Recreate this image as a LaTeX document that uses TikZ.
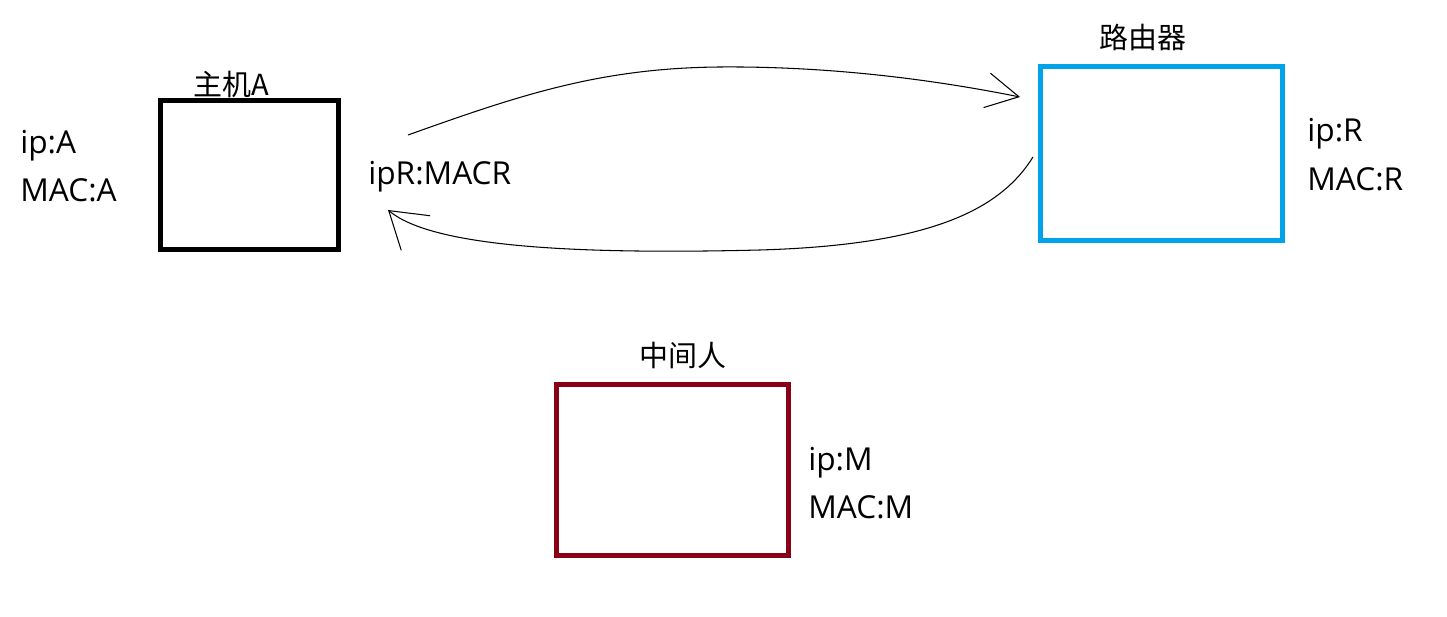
\documentclass[tikz,border=0pt]{standalone}
\usepackage{fontspec}
\setmainfont{Open Sans}
\newfontfamily\cjk{Noto Sans CJK SC}
\usetikzlibrary{arrows.meta}
\definecolor{routerblue}{HTML}{00A2E8}
\definecolor{mitmred}{HTML}{880015}
\tikzset{
  box/.style={draw, line width=0.1cm, inner sep=0pt},
  info/.style={anchor=base west, inner sep=0pt, font=\fontsize{18}{21}\selectfont},
  title/.style={inner sep=0pt, font=\cjk\fontsize{16.5}{19}\selectfont},
  flow/.style={line width=0.6pt},
}
\begin{document}
\begin{tikzpicture}[x=0.02cm, y=-0.02cm]
    \useasboundingbox (0,0) rectangle (1447,617);

    % Define boxes
    \node[box, minimum width=3.56cm, minimum height=2.99cm]                    (hostA)  at (249.5,174.75) {};
    \node[box, draw=routerblue, minimum width=4.84cm, minimum height=3.48cm]  (router) at (1161.5,153.5) {};
    \node[box, draw=mitmred, minimum width=4.64cm, minimum height=3.43cm]     (mitm)   at (672.5,469.75) {};

    % Titles
    \node[title] (hostAname)  at (231,84)  {主机A};
    \node[title] (routername) at (1143,37) {路由器};
    \node[title] (mitmname)   at (683,355) {中间人};

    % Addresses
    \node[info] (hostAip)   at (20,154)   {ip:A};
    \node[info] (hostAmac)  at (20,202)   {MAC:A};
    \node[info] (routerip)  at (1307,142) {ip:R};
    \node[info] (routermac) at (1307,191) {MAC:R};
    \node[info] (mitmip)    at (808,471)  {ip:M};
    \node[info] (mitmmac)   at (808,519)  {MAC:M};
    \node[info] (reply)     at (368,185)  {ipR:MACR};

    % Draw arrows
    \coordinate (reqS) at (408,135);
    \coordinate (reqE) at (1020,97);
    \coordinate (repS) at (1033,157);
    \coordinate (repE) at (388,210);
    \draw[flow, -{Straight Barb[length=6.5mm, width=7mm]}]
        (reqS) .. controls (520,95) and (600,68) .. (720,67)
               .. controls (850,66) and (960,85) .. (reqE);
    \draw[flow, -{Straight Barb[length=7mm, width=9mm]}]
        (repS) .. controls (1000,210) and (930,245) .. (760,250)
               .. controls (560,255) and (430,245) .. (repE);
\end{tikzpicture}
\end{document}
